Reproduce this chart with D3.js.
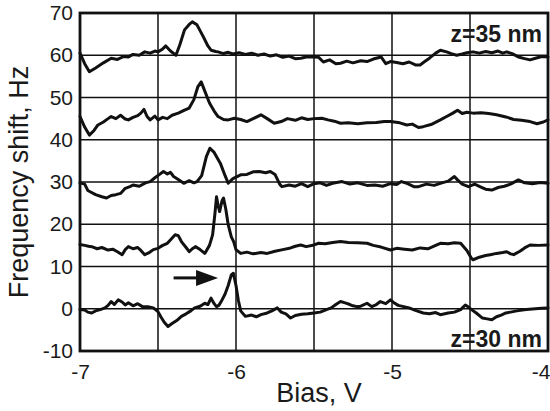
<!DOCTYPE html>
<html>
<head>
<meta charset="utf-8">
<script src="https://cdn.jsdelivr.net/npm/d3@7"></script>
<style>
  html, body { margin: 0; padding: 0; background: #fff; }
  svg { display: block; }
  text { font-family: "Liberation Sans", Arial, Helvetica, sans-serif; fill: #1a1a1a; }
</style>
</head>
<body>
<svg id="chart" width="550" height="411"></svg>
<script>
// ---- Data ----
const xTicks = [-7, -6, -5, -4];
const xGrid = [-6.5, -6, -5.5, -5, -4.5];
const yTicks = [-10, 0, 10, 20, 30, 40, 50, 60, 70];
const yGrid = [0, 10, 20, 30, 40, 50, 60];
const xLabel = "Bias, V";
const yLabel = "Frequency shift, Hz";
const topNote = "z=35 nm";
const bottomNote = "z=30 nm";
const arrowFrom = [-6.40, 7.3];
const arrowTo = [-6.115, 7.3];

// Bias (V), frequency shift (Hz) pairs for each trace
const trace60 = [[-7.00,60.5],[-6.97,58.0],[-6.94,56.1],[-6.90,57.0],[-6.85,58.2],[-6.80,59.3],[-6.76,59.0],[-6.72,59.7],[-6.69,59.6],[-6.66,60.2],[-6.62,60.0],[-6.585,60.8],[-6.55,60.5],[-6.52,61.0],[-6.50,60.8],[-6.47,61.5],[-6.45,62.2],[-6.42,61.0],[-6.385,60.0],[-6.36,62.5],[-6.33,66.0],[-6.30,67.3],[-6.28,67.9],[-6.25,67.2],[-6.21,64.4],[-6.18,62.2],[-6.16,61.2],[-6.13,60.9],[-6.115,60.8],[-6.08,60.4],[-6.05,60.7],[-6.02,60.3],[-5.98,60.6],[-5.94,60.2],[-5.90,60.5],[-5.86,60.0],[-5.82,60.3],[-5.78,59.8],[-5.74,60.1],[-5.70,59.5],[-5.66,59.8],[-5.62,59.2],[-5.585,59.3],[-5.55,59.6],[-5.50,59.6],[-5.47,59.5],[-5.44,58.4],[-5.40,58.9],[-5.36,58.0],[-5.33,58.1],[-5.29,58.6],[-5.25,58.2],[-5.20,58.7],[-5.16,58.5],[-5.12,59.1],[-5.07,59.6],[-5.04,58.0],[-5.01,58.5],[-4.97,58.3],[-4.93,58.0],[-4.89,58.4],[-4.85,57.7],[-4.82,57.7],[-4.79,58.5],[-4.76,59.3],[-4.72,60.5],[-4.69,61.2],[-4.65,60.8],[-4.62,60.4],[-4.585,60.0],[-4.55,60.3],[-4.52,60.6],[-4.48,60.8],[-4.44,60.5],[-4.40,60.9],[-4.36,60.6],[-4.32,61.0],[-4.29,60.5],[-4.265,60.8],[-4.23,60.4],[-4.19,59.6],[-4.15,59.2],[-4.115,58.9],[-4.08,59.3],[-4.04,59.7],[-4.00,59.6]];

const trace45 = [[-7.00,45.5],[-6.97,43.0],[-6.94,41.1],[-6.91,42.2],[-6.885,43.5],[-6.85,44.2],[-6.82,45.0],[-6.80,45.5],[-6.77,45.0],[-6.74,45.8],[-6.71,44.9],[-6.69,44.7],[-6.66,45.3],[-6.63,45.7],[-6.61,46.3],[-6.59,47.2],[-6.57,45.5],[-6.55,44.7],[-6.52,45.6],[-6.50,44.7],[-6.47,45.3],[-6.44,45.0],[-6.41,45.8],[-6.37,46.3],[-6.33,47.0],[-6.30,47.5],[-6.27,49.5],[-6.245,52.5],[-6.223,53.7],[-6.20,51.5],[-6.17,48.7],[-6.14,46.8],[-6.115,45.5],[-6.08,44.8],[-6.05,44.7],[-6.01,45.1],[-5.97,44.8],[-5.93,44.3],[-5.89,45.0],[-5.84,45.9],[-5.80,45.0],[-5.755,43.9],[-5.71,44.3],[-5.67,45.0],[-5.62,44.6],[-5.58,45.2],[-5.54,44.8],[-5.50,45.0],[-5.45,45.1],[-5.41,44.7],[-5.37,44.4],[-5.33,43.9],[-5.28,44.0],[-5.22,43.8],[-5.16,44.0],[-5.10,44.1],[-5.05,44.3],[-5.01,44.3],[-4.95,44.0],[-4.905,43.5],[-4.87,43.7],[-4.83,42.9],[-4.80,43.1],[-4.75,43.6],[-4.69,44.7],[-4.65,45.5],[-4.61,46.3],[-4.58,47.0],[-4.55,46.2],[-4.52,46.5],[-4.48,46.3],[-4.43,46.4],[-4.38,46.2],[-4.33,45.9],[-4.27,45.4],[-4.22,44.8],[-4.17,44.6],[-4.115,44.3],[-4.07,43.8],[-4.03,44.2],[-4.00,44.7]];

const trace30 = [[-7.00,29.8],[-6.97,29.5],[-6.95,28.0],[-6.935,27.7],[-6.90,27.0],[-6.86,26.5],[-6.83,26.2],[-6.80,26.8],[-6.77,27.0],[-6.74,27.3],[-6.71,28.5],[-6.68,28.9],[-6.66,29.3],[-6.62,29.0],[-6.58,29.8],[-6.55,30.1],[-6.52,31.0],[-6.49,31.8],[-6.465,32.5],[-6.44,31.9],[-6.42,32.3],[-6.40,31.3],[-6.37,30.6],[-6.335,29.7],[-6.30,30.3],[-6.27,29.8],[-6.25,30.1],[-6.22,31.5],[-6.19,36.0],[-6.167,38.0],[-6.14,37.0],[-6.10,34.4],[-6.07,31.5],[-6.05,29.7],[-6.02,30.8],[-5.97,31.7],[-5.93,31.8],[-5.89,32.4],[-5.85,32.5],[-5.81,32.2],[-5.78,32.5],[-5.75,31.8],[-5.72,29.5],[-5.705,28.9],[-5.66,29.3],[-5.62,29.0],[-5.58,29.6],[-5.54,28.9],[-5.50,29.6],[-5.46,29.8],[-5.42,29.2],[-5.38,29.7],[-5.32,30.1],[-5.27,29.5],[-5.22,29.8],[-5.16,29.2],[-5.11,29.3],[-5.06,29.0],[-5.01,29.6],[-4.97,29.4],[-4.94,30.1],[-4.90,29.6],[-4.86,28.9],[-4.83,28.9],[-4.78,29.5],[-4.73,29.2],[-4.68,29.8],[-4.64,30.2],[-4.60,31.3],[-4.58,30.5],[-4.55,29.5],[-4.51,28.9],[-4.47,29.5],[-4.43,28.8],[-4.40,28.3],[-4.36,28.1],[-4.32,28.7],[-4.28,29.0],[-4.24,29.5],[-4.19,30.5],[-4.15,29.8],[-4.10,29.6],[-4.05,29.9],[-4.00,29.7]];

const trace15 = [[-7.00,15.2],[-6.97,15.0],[-6.945,14.8],[-6.925,14.7],[-6.89,14.2],[-6.86,14.5],[-6.82,13.9],[-6.79,14.1],[-6.76,13.5],[-6.73,12.8],[-6.71,14.0],[-6.69,14.7],[-6.66,14.2],[-6.63,14.5],[-6.61,13.8],[-6.585,12.8],[-6.56,13.2],[-6.53,14.0],[-6.50,14.3],[-6.47,15.0],[-6.44,15.5],[-6.415,16.5],[-6.39,17.5],[-6.37,17.3],[-6.35,15.9],[-6.32,14.5],[-6.30,13.5],[-6.28,14.2],[-6.26,14.7],[-6.23,14.0],[-6.20,13.1],[-6.17,15.0],[-6.15,17.5],[-6.135,22.5],[-6.125,26.5],[-6.115,24.5],[-6.105,23.0],[-6.09,25.5],[-6.08,26.2],[-6.065,23.5],[-6.05,19.9],[-6.03,17.0],[-6.015,15.9],[-6.00,14.0],[-5.97,13.1],[-5.93,13.4],[-5.89,13.0],[-5.84,13.3],[-5.80,13.1],[-5.75,13.6],[-5.70,14.0],[-5.65,14.4],[-5.62,14.8],[-5.585,15.1],[-5.55,14.7],[-5.50,15.1],[-5.47,15.5],[-5.43,15.4],[-5.38,15.7],[-5.33,15.9],[-5.28,15.7],[-5.22,15.6],[-5.16,15.5],[-5.12,15.0],[-5.07,14.6],[-5.01,13.9],[-4.97,14.3],[-4.92,14.1],[-4.87,13.9],[-4.82,14.4],[-4.77,14.2],[-4.72,15.0],[-4.69,15.5],[-4.64,15.4],[-4.60,15.6],[-4.56,15.5],[-4.52,13.8],[-4.49,11.9],[-4.48,11.6],[-4.44,12.2],[-4.40,12.6],[-4.37,12.8],[-4.33,13.1],[-4.29,13.3],[-4.265,13.5],[-4.24,13.0],[-4.22,12.8],[-4.18,13.6],[-4.15,14.4],[-4.115,15.1],[-4.06,15.0],[-4.00,15.1]];

const trace0 = [[-7.00,-0.2],[-6.97,-0.3],[-6.95,-0.8],[-6.925,-1.0],[-6.90,-0.5],[-6.87,-0.2],[-6.84,0.2],[-6.82,0.8],[-6.80,1.7],[-6.78,1.0],[-6.755,2.1],[-6.73,1.6],[-6.71,0.9],[-6.69,1.4],[-6.66,0.7],[-6.63,1.2],[-6.60,0.5],[-6.565,0.5],[-6.53,0.2],[-6.50,-0.7],[-6.48,-2.0],[-6.46,-3.2],[-6.436,-4.2],[-6.41,-3.5],[-6.38,-2.8],[-6.35,-1.8],[-6.32,-1.2],[-6.29,-0.5],[-6.265,0.2],[-6.23,0.6],[-6.20,1.3],[-6.18,1.0],[-6.16,2.5],[-6.14,1.2],[-6.125,0.5],[-6.11,0.8],[-6.095,1.7],[-6.07,3.5],[-6.05,5.5],[-6.03,8.0],[-6.017,8.4],[-6.00,5.5],[-5.985,2.0],[-5.97,-0.5],[-5.94,-1.8],[-5.90,-1.5],[-5.87,-1.9],[-5.84,-1.4],[-5.80,-1.0],[-5.77,-0.5],[-5.735,0.2],[-5.71,-0.8],[-5.68,-1.2],[-5.65,-2.2],[-5.62,-1.6],[-5.58,-1.3],[-5.54,-1.2],[-5.50,-1.0],[-5.46,-0.8],[-5.42,-0.2],[-5.39,0.2],[-5.36,1.0],[-5.33,1.7],[-5.30,1.4],[-5.27,1.0],[-5.25,0.7],[-5.225,0.5],[-5.20,0.6],[-5.16,1.3],[-5.13,0.5],[-5.10,1.0],[-5.075,1.7],[-5.04,1.2],[-5.01,2.1],[-4.99,1.5],[-4.96,0.8],[-4.925,0.5],[-4.89,0.2],[-4.85,-0.4],[-4.80,-1.0],[-4.76,-1.2],[-4.72,-0.9],[-4.69,-1.4],[-4.64,-1.0],[-4.60,-0.8],[-4.56,-0.2],[-4.53,0.9],[-4.51,0.4],[-4.49,-0.2],[-4.46,-1.0],[-4.42,-2.2],[-4.39,-2.4],[-4.36,-2.6],[-4.33,-1.9],[-4.30,-1.5],[-4.27,-1.0],[-4.24,-0.8],[-4.20,-0.5],[-4.14,-0.2],[-4.08,0.0],[-4.04,0.1],[-4.00,0.2]];

const traces = [trace60, trace45, trace30, trace15, trace0];

// ---- Layout ----
const W = 550, H = 411;
const margin = { left: 80, right: 2, top: 13, bottom: 60 };
const svg = d3.select("#chart");

const x = d3.scaleLinear().domain([-7, -4]).range([margin.left, W - margin.right]);
const y = d3.scaleLinear().domain([-10, 70]).range([H - margin.bottom, margin.top]);
const fmt = d => String(d); // plain hyphen-minus like the reference

// grid
const grid = svg.append("g");
grid.selectAll(".vg").data(xGrid).join("line")
  .attr("x1", d => x(d)).attr("x2", d => x(d))
  .attr("y1", y(-10)).attr("y2", y(70))
  .attr("stroke", "#111").attr("stroke-width", 1.5);
grid.selectAll(".hg").data(yGrid).join("line")
  .attr("x1", x(-7)).attr("x2", x(-4))
  .attr("y1", d => y(d)).attr("y2", d => y(d))
  .attr("stroke", "#111").attr("stroke-width", 1.5);

// traces
const line = d3.line().x(d => x(d[0])).y(d => y(d[1])).curve(d3.curveLinear);
svg.append("g").selectAll("path").data(traces).join("path")
  .attr("d", line)
  .attr("fill", "none")
  .attr("stroke", "#111")
  .attr("stroke-width", 3)
  .attr("stroke-linejoin", "round")
  .attr("stroke-linecap", "round");

// frame
svg.append("rect")
  .attr("x", x(-7)).attr("y", y(70))
  .attr("width", x(-4) - x(-7)).attr("height", y(-10) - y(70))
  .attr("fill", "none").attr("stroke", "#111").attr("stroke-width", 2.8);

// axes
const yAxis = svg.append("g")
  .attr("transform", `translate(${x(-7)},0)`)
  .call(d3.axisLeft(y).tickValues(yTicks).tickSize(0).tickPadding(7).tickFormat(fmt));
yAxis.select(".domain").remove();
yAxis.selectAll("text").attr("font-size", 21).attr("font-family", null).attr("fill", "#1a1a1a");

const xAxis = svg.append("g")
  .attr("transform", `translate(0,${y(-10)})`)
  .call(d3.axisBottom(x).tickValues(xTicks).tickSize(0).tickPadding(13).tickFormat(fmt));
xAxis.select(".domain").remove();
xAxis.selectAll("text").attr("font-size", 21).attr("font-family", null).attr("fill", "#1a1a1a");
// keep the last label inside the picture, as in the reference
xAxis.selectAll(".tick text").filter(d => d === -4).attr("text-anchor", "end").attr("dx", 2);
svg.selectAll(".tick text").style("font-family", '"Liberation Sans", Arial, sans-serif');

// axis titles
svg.append("text")
  .attr("x", (x(-7) + x(-4)) / 2 + 5).attr("y", 402)
  .attr("text-anchor", "middle").attr("font-size", 27)
  .text(xLabel);
svg.append("text")
  .attr("transform", `translate(28,${182}) rotate(-90)`)
  .attr("text-anchor", "middle").attr("font-size", 27)
  .text(yLabel);

// annotations
svg.append("text")
  .attr("x", 542).attr("y", 42).attr("text-anchor", "end")
  .attr("font-size", 23).attr("font-weight", "bold")
  .text(topNote);
svg.append("text")
  .attr("x", 542).attr("y", 347).attr("text-anchor", "end")
  .attr("font-size", 23).attr("font-weight", "bold")
  .text(bottomNote);

// arrow
const ax0 = x(arrowFrom[0]), ay = y(arrowFrom[1]), ax1 = x(arrowTo[0]);
svg.append("line")
  .attr("x1", ax0).attr("x2", ax1 - 18).attr("y1", ay).attr("y2", ay)
  .attr("stroke", "#111").attr("stroke-width", 3);
svg.append("path")
  .attr("d", `M${ax1},${ay} L${ax1 - 22},${ay - 8} L${ax1 - 22},${ay + 8} Z`)
  .attr("fill", "#111");
</script>
</body>
</html>
